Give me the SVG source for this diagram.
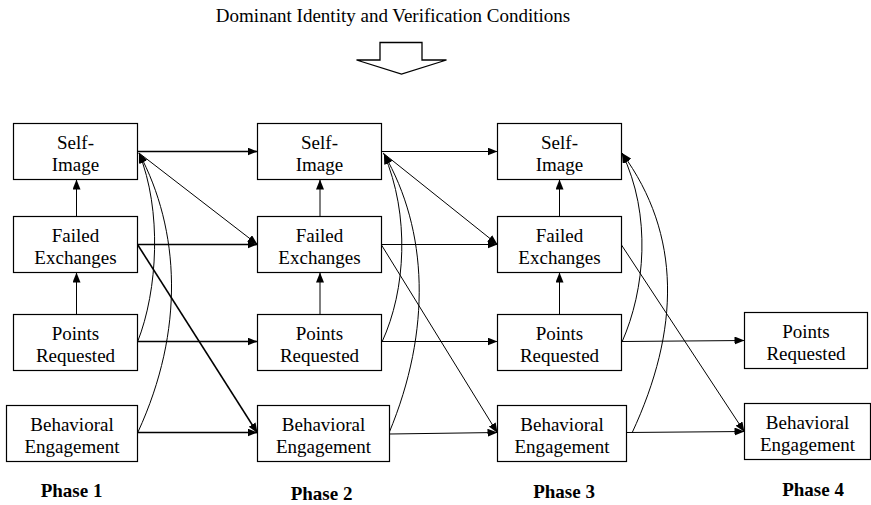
<svg xmlns="http://www.w3.org/2000/svg" width="871" height="505" viewBox="0 0 871 505">
  <style>
    .box { fill: #fff; stroke: #000; stroke-width: 1.2; }
    .lbl { font-family: "Liberation Serif", "Times New Roman", serif; font-size: 19px; fill: #000; text-anchor: middle; }
    .phase { font-family: "Liberation Serif", "Times New Roman", serif; font-size: 19px; font-weight: bold; fill: #000; text-anchor: middle; }
    .title { font-family: "Liberation Serif", "Times New Roman", serif; font-size: 19px; fill: #000; text-anchor: middle; }
    .edge { fill: none; stroke: #000; stroke-width: 1; marker-end: url(#head); }
    .thick { stroke-width: 1.3; }
    .bold { stroke-width: 1.6; }
  </style>
  <defs>
    <marker id="head" markerUnits="userSpaceOnUse" markerWidth="11" markerHeight="9" refX="10" refY="4" orient="auto">
      <path d="M0,0 L10,4 L0,8 z" fill="#000"/>
    </marker>
  </defs>

  <rect width="871" height="505" fill="#fff"/>

  <!-- heading and block arrow -->
  <g id="heading">
    <text class="title" x="393" y="22">Dominant Identity and Verification Conditions</text>
    <polygon points="380,42.5 422,42.5 422,60 446.5,60 401.5,74 356.5,60 380,60" fill="#fff" stroke="#000" stroke-width="1.3"/>
  </g>

  <!-- connectors -->
  <g id="connectors">
    <!-- within-phase vertical paths -->
    <line class="edge" x1="76.5" y1="216.5" x2="76.5" y2="179.5"/>
    <line class="edge" x1="76.5" y1="314.5" x2="76.5" y2="272.5"/>
    <line class="edge" x1="320" y1="216.5" x2="320" y2="179.5"/>
    <line class="edge" x1="320" y1="314.5" x2="320" y2="272.5"/>
    <line class="edge" x1="559.5" y1="216.5" x2="559.5" y2="179.5"/>
    <line class="edge" x1="559.5" y1="314.5" x2="559.5" y2="272.5"/>

    <!-- phase 1 to phase 2 -->
    <line class="edge thick" x1="137.5" y1="151.5" x2="257.5" y2="151.5"/>
    <line class="edge thick" x1="137.5" y1="244.5" x2="257.5" y2="244.5"/>
    <line class="edge thick" x1="137.5" y1="341.5" x2="257.5" y2="341.5"/>
    <line class="edge thick" x1="137.5" y1="432.5" x2="257.5" y2="432.5"/>
    <line class="edge" x1="139" y1="153" x2="257.5" y2="244.5"/>
    <line class="edge bold" x1="137.5" y1="244.5" x2="257.5" y2="433"/>

    <!-- phase 2 to phase 3 -->
    <line class="edge" x1="381.5" y1="151.5" x2="497.5" y2="151.5"/>
    <line class="edge" x1="381.5" y1="244.5" x2="497.5" y2="244.5"/>
    <line class="edge" x1="381.5" y1="341.5" x2="497.5" y2="341.5"/>
    <line class="edge" x1="389.5" y1="434" x2="497.5" y2="432.5"/>
    <line class="edge" x1="383" y1="153" x2="497.5" y2="244.5"/>
    <line class="edge" x1="381.5" y1="245" x2="497.5" y2="433"/>

    <!-- phase 3 to phase 4 -->
    <line class="edge" x1="621.5" y1="341.5" x2="744.5" y2="340.5"/>
    <line class="edge" x1="626.5" y1="432.5" x2="744.5" y2="431.5"/>
    <line class="edge" x1="621.5" y1="245" x2="744.5" y2="432"/>

    <!-- curved paths into self-image -->
    <path class="edge" d="M137.5,342 C158,290 162,210 139,153"/>
    <path class="edge" d="M138,432 C185,330 180,230 139,153"/>
    <path class="edge" d="M382,342 C406,290 410,215 384,154"/>
    <path class="edge" d="M389,433 C432,330 428,230 384,154"/>
    <path class="edge" d="M622,342 C645,290 652,215 622,153"/>
    <path class="edge" d="M632,433 C680,330 682,235 622,153"/>
  </g>

  <!-- phase 1 -->
  <g id="p1-self">
    <rect class="box" x="13.5" y="123.5" width="124" height="56"/>
    <text class="lbl" x="75.5" y="148.5">Self-</text>
    <text class="lbl" x="75.5" y="170.5">Image</text>
  </g>
  <g id="p1-failed">
    <rect class="box" x="13.5" y="216.5" width="124" height="56"/>
    <text class="lbl" x="75.5" y="241.5">Failed</text>
    <text class="lbl" x="75.5" y="263.5">Exchanges</text>
  </g>
  <g id="p1-points">
    <rect class="box" x="13.5" y="314.5" width="124" height="56"/>
    <text class="lbl" x="75.5" y="339.5">Points</text>
    <text class="lbl" x="75.5" y="361.5">Requested</text>
  </g>
  <g id="p1-behavior">
    <rect class="box" x="6.5" y="405.5" width="131" height="56"/>
    <text class="lbl" x="72" y="430.5">Behavioral</text>
    <text class="lbl" x="72" y="452.5">Engagement</text>
  </g>

  <!-- phase 2 -->
  <g id="p2-self">
    <rect class="box" x="257.5" y="123.5" width="124" height="56"/>
    <text class="lbl" x="319.5" y="148.5">Self-</text>
    <text class="lbl" x="319.5" y="170.5">Image</text>
  </g>
  <g id="p2-failed">
    <rect class="box" x="257.5" y="216.5" width="124" height="56"/>
    <text class="lbl" x="319.5" y="241.5">Failed</text>
    <text class="lbl" x="319.5" y="263.5">Exchanges</text>
  </g>
  <g id="p2-points">
    <rect class="box" x="257.5" y="314.5" width="124" height="56"/>
    <text class="lbl" x="319.5" y="339.5">Points</text>
    <text class="lbl" x="319.5" y="361.5">Requested</text>
  </g>
  <g id="p2-behavior">
    <rect class="box" x="257.5" y="405.5" width="132" height="56"/>
    <text class="lbl" x="323.5" y="430.5">Behavioral</text>
    <text class="lbl" x="323.5" y="452.5">Engagement</text>
  </g>

  <!-- phase 3 -->
  <g id="p3-self">
    <rect class="box" x="497.5" y="123.5" width="124" height="56"/>
    <text class="lbl" x="559.5" y="148.5">Self-</text>
    <text class="lbl" x="559.5" y="170.5">Image</text>
  </g>
  <g id="p3-failed">
    <rect class="box" x="497.5" y="216.5" width="124" height="56"/>
    <text class="lbl" x="559.5" y="241.5">Failed</text>
    <text class="lbl" x="559.5" y="263.5">Exchanges</text>
  </g>
  <g id="p3-points">
    <rect class="box" x="497.5" y="314.5" width="124" height="56"/>
    <text class="lbl" x="559.5" y="339.5">Points</text>
    <text class="lbl" x="559.5" y="361.5">Requested</text>
  </g>
  <g id="p3-behavior">
    <rect class="box" x="497.5" y="405.5" width="129" height="56"/>
    <text class="lbl" x="562" y="430.5">Behavioral</text>
    <text class="lbl" x="562" y="452.5">Engagement</text>
  </g>

  <!-- phase 4 -->
  <g id="p4-points">
    <rect class="box" x="744.5" y="312.5" width="123" height="56"/>
    <text class="lbl" x="806" y="337.5">Points</text>
    <text class="lbl" x="806" y="359.5">Requested</text>
  </g>
  <g id="p4-behavior">
    <rect class="box" x="744.5" y="403.5" width="126" height="56"/>
    <text class="lbl" x="807.5" y="428.5">Behavioral</text>
    <text class="lbl" x="807.5" y="450.5">Engagement</text>
  </g>

  <!-- phase labels -->
  <g id="phase-labels">
    <text class="phase" x="71.5" y="497">Phase 1</text>
    <text class="phase" x="321.5" y="500">Phase 2</text>
    <text class="phase" x="564" y="497.5">Phase 3</text>
    <text class="phase" x="813" y="495.5">Phase 4</text>
  </g>
</svg>
